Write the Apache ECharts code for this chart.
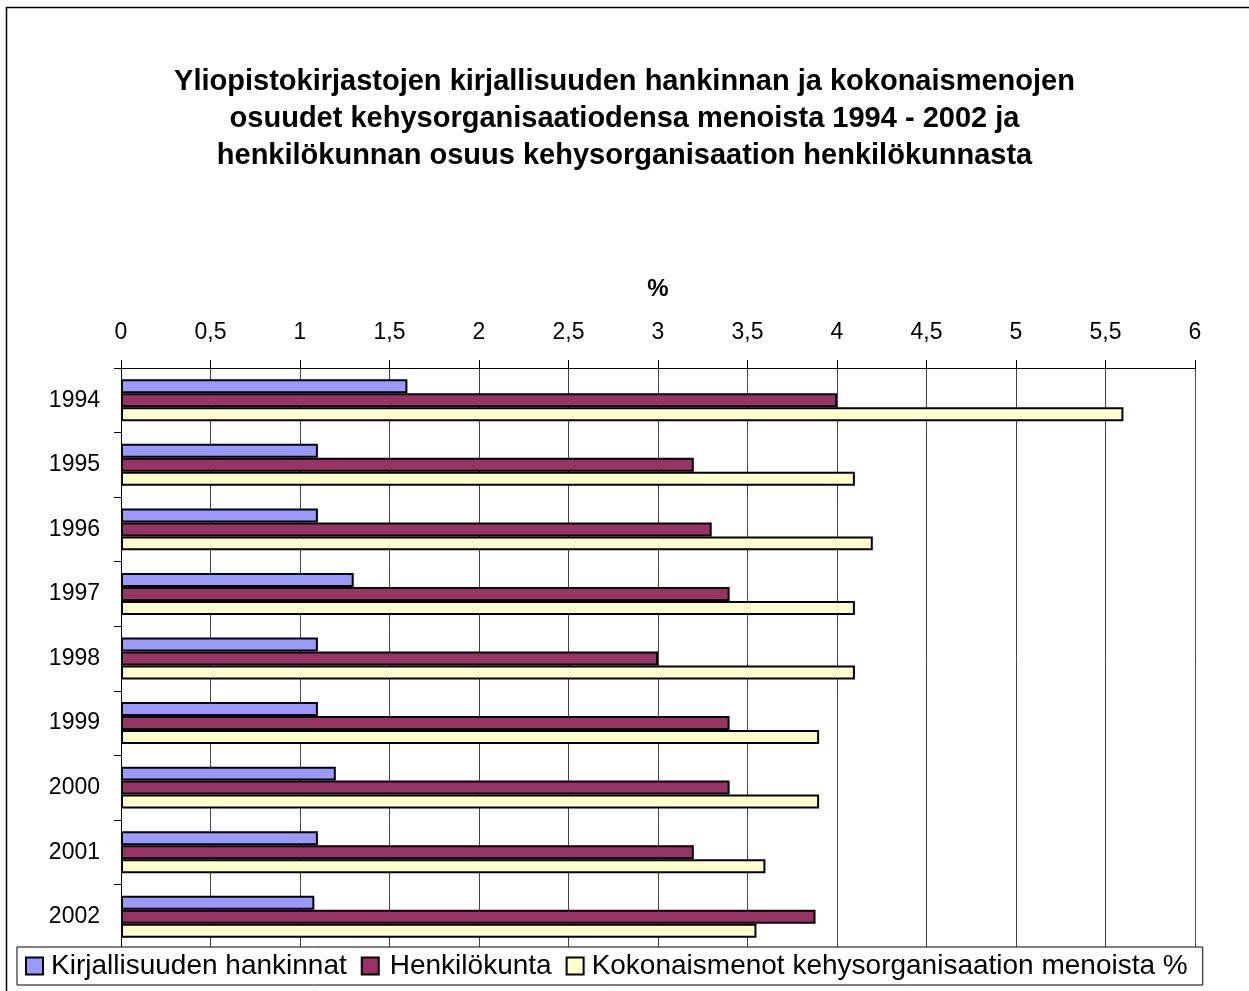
<!DOCTYPE html>
<html>
<head>
<meta charset="utf-8">
<script src="https://cdn.jsdelivr.net/npm/echarts@6/dist/echarts.min.js"></script>
<style>
  html, body { margin: 0; padding: 0; background: #fff; }
  #main { width: 1249px; height: 991px; }
</style>
</head>
<body>
<div id="main"></div>
<script>
var years = ['1994', '1995', '1996', '1997', '1998', '1999', '2000', '2001', '2002'];
var kirjallisuus = [1.6, 1.1, 1.1, 1.3, 1.1, 1.1, 1.2, 1.1, 1.08];
var henkilokunta = [4.0, 3.2, 3.3, 3.4, 3.0, 3.4, 3.4, 3.2, 3.88];
var kokonaismenot = [5.6, 4.1, 4.2, 4.1, 4.1, 3.9, 3.9, 3.6, 3.55];
var seriesNames = ['Kirjallisuuden hankinnat', 'Henkilökunta', 'Kokonaismenot kehysorganisaation menoista %'];
var colors = ['#9999FF', '#993366', '#FFFFCC'];

var font = 'Arial, "Liberation Sans", sans-serif';

function bar(name, data, color) {
    return {
        name: name,
        type: 'bar',
        data: data,
        barGap: '0%',
        barCategoryGap: '35%',
        itemStyle: {
            color: color,
            borderColor: '#000',
            borderWidth: 2
        }
    };
}

var chart = echarts.init(document.getElementById('main'));
chart.setOption({
    animation: false,
    backgroundColor: '#fff',
    textStyle: { fontFamily: font },
    title: {
        text: 'Yliopistokirjastojen kirjallisuuden hankinnan ja kokonaismenojen\nosuudet kehysorganisaatiodensa menoista 1994 - 2002 ja\nhenkilökunnan osuus kehysorganisaation henkilökunnasta',
        left: 'center',
        top: 58,
        textStyle: {
            fontFamily: font,
            fontSize: 29,
            fontWeight: 'bold',
            lineHeight: 37,
            color: '#000'
        }
    },
    graphic: [{
        type: 'rect',
        z: -1,
        shape: { x: 6.5, y: 7.5, width: 1300, height: 1000 },
        style: { fill: 'none', stroke: '#000', lineWidth: 1.5 }
    }],
    legend: {
        left: 17,
        top: 947,
        padding: [5, 15, 5, 8],
        borderColor: '#000',
        borderWidth: 1,
        backgroundColor: '#fff',
        itemWidth: 17,
        itemHeight: 17,
        itemGap: 14,
        icon: 'rect',
        itemStyle: { borderColor: '#000', borderWidth: 2 },
        textStyle: { fontFamily: font, fontSize: 28, color: '#000', padding: [0, 0, 0, 3] },
        data: [
            seriesNames[0],
            { name: seriesNames[1], textStyle: { padding: [0, 0, 0, 6] } },
            seriesNames[2]
        ]
    },
    grid: {
        left: 121,
        right: 54,
        top: 368,
        bottom: 42
    },
    xAxis: {
        type: 'value',
        position: 'top',
        min: 0,
        max: 6,
        interval: 0.5,
        name: '%',
        nameLocation: 'middle',
        nameGap: 67,
        nameTextStyle: { fontFamily: font, fontSize: 24, fontWeight: 'bold', color: '#000' },
        axisLine: { show: true, lineStyle: { color: '#000', width: 1 } },
        axisTick: { show: true, length: 8, lineStyle: { color: '#000' } },
        axisLabel: {
            fontSize: 23,
            color: '#000',
            margin: 24,
            formatter: function (v) { return String(v).replace('.', ','); }
        },
        splitLine: { show: true, lineStyle: { color: '#444', width: 1 } }
    },
    yAxis: {
        type: 'category',
        inverse: true,
        data: years,
        axisLine: { lineStyle: { color: '#000', width: 1 } },
        axisTick: { show: true, length: 7, lineStyle: { color: '#000' } },
        axisLabel: { fontSize: 23, color: '#000', margin: 21 },
        splitLine: { show: false }
    },
    series: [
        bar(seriesNames[0], kirjallisuus, colors[0]),
        bar(seriesNames[1], henkilokunta, colors[1]),
        bar(seriesNames[2], kokonaismenot, colors[2])
    ]
});
</script>
</body>
</html>
